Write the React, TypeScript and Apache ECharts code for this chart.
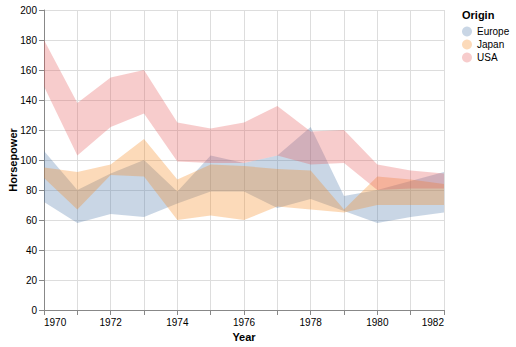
import React, { useEffect, useRef } from "react";
import * as echarts from "echarts";

const years = [1970, 1971, 1972, 1973, 1974, 1975, 1976, 1977, 1978, 1979, 1980, 1981, 1982];
const origins = ["Europe", "Japan", "USA"];
const colors = ["#4c78a8", "#f58518", "#e45756"];
const fadedColors = ["rgba(76,120,168,0.3)", "rgba(245,133,24,0.3)", "rgba(228,87,86,0.3)"];

const europeLow = [72, 58, 64, 62, 71, 79, 79, 68, 74, 66, 58, 62, 65];
const europeHigh = [106, 80, 91, 100, 79, 103, 98, 103, 122, 76, 80, 86, 92];
const japanLow = [88, 67, 90, 89, 60, 63, 60, 69, 67, 65, 70, 70, 70];
const japanHigh = [95, 92, 97, 114, 87, 97, 96, 94, 93, 67, 89, 87, 84];
const usaLow = [149, 103, 122, 131, 99, 98, 98, 103, 97, 98, 80, 81, 81];
const usaHigh = [180, 138, 155, 160, 125, 121, 125, 136, 119, 120, 97, 93, 91];

const yTicks = [0, 20, 40, 60, 80, 100, 120, 140, 160, 180, 200];

const FONT = "'Liberation Sans', Arial, Helvetica, sans-serif";

export default function App() {
  const ref = useRef<HTMLDivElement>(null);
  useEffect(() => {
    if (!ref.current) return;
    const chart = echarts.init(ref.current, undefined, { renderer: "svg" });
    const lows = [europeLow, japanLow, usaLow];
    const highs = [europeHigh, japanHigh, usaHigh];
    const series: any[] = origins.map((name, i) => ({
      name,
      type: "custom",
      silent: true,
      clip: false,
      z: 2 + i,
      itemStyle: { color: fadedColors[i] },
      encode: { x: 0, y: [1, 2] },
      data: years.map((y, j) => [y, lows[i][j], highs[i][j]]),
      renderItem: (params: any, api: any) => {
        if (params.dataIndex !== 0) return null;
        const pts: number[][] = [];
        for (let j = 0; j < years.length; j++) pts.push(api.coord([years[j], highs[i][j]]));
        for (let j = years.length - 1; j >= 0; j--) pts.push(api.coord([years[j], lows[i][j]]));
        return {
          type: "polygon",
          shape: { points: pts },
          style: { fill: colors[i], opacity: 0.3, stroke: "none" },
        };
      },
    }));
    chart.setOption({
      animation: false,
      textStyle: { fontFamily: FONT },
      title: {
        text: "Origin",
        left: 462,
        top: 9,
        padding: 0,
        textStyle: { fontSize: 11, fontWeight: "bold", color: "#000", fontFamily: FONT },
      },
      legend: {
        orient: "vertical",
        left: 462,
        top: 26.5,
        padding: 0,
        itemWidth: 10,
        itemHeight: 10,
        itemGap: 3,
        icon: "circle",
        data: origins.map((n, i) => ({ name: n, itemStyle: { color: fadedColors[i] } })),
        textStyle: { fontSize: 10, color: "#000", fontFamily: FONT },
      },
      grid: { left: 44, top: 10, width: 400, height: 300, containLabel: false, outerBoundsMode: "none" },
      xAxis: {
        type: "value",
        min: years[0],
        max: years[years.length - 1],
        interval: 1,
        name: "Year",
        nameLocation: "middle",
        nameGap: 21,
        nameTextStyle: { fontSize: 11, fontWeight: "bold", color: "#000", fontFamily: FONT },
        axisLine: { show: true, lineStyle: { color: "#888" } },
        axisTick: { show: true, length: 5, lineStyle: { color: "#888" } },
        axisLabel: {
          fontSize: 10,
          color: "#000",
          margin: 7,
          fontFamily: FONT,
          showMinLabel: true,
          showMaxLabel: true,
          alignMinLabel: "left",
          alignMaxLabel: "right",
          formatter: (v: number) => (v % 2 === 0 ? String(v) : ""),
        },
        splitLine: { show: true, lineStyle: { color: "#ddd" } },
      },
      yAxis: {
        type: "value",
        min: yTicks[0],
        max: yTicks[yTicks.length - 1],
        interval: 20,
        name: "Horsepower",
        nameLocation: "middle",
        nameGap: 26,
        nameMoveOverlap: false,
        nameTextStyle: { fontSize: 11, fontWeight: "bold", color: "#000", fontFamily: FONT },
        axisLine: { show: true, lineStyle: { color: "#888" } },
        axisTick: { show: true, length: 5, lineStyle: { color: "#888" } },
        axisLabel: { fontSize: 10, color: "#000", margin: 7, fontFamily: FONT },
        splitLine: { show: true, lineStyle: { color: "#ddd" } },
      },
      series,
    });
    return () => chart.dispose();
  }, []);
  return (
    <div
      ref={ref}
      style={{ position: "absolute", left: 0, top: 0, width: 516, height: 347 }}
    />
  );
}
